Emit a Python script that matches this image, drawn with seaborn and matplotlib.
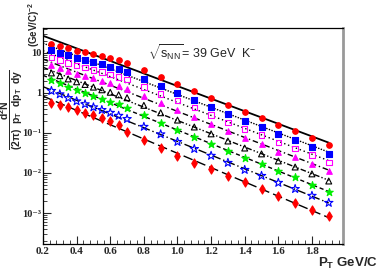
import numpy as np
import matplotlib
matplotlib.use("Agg")
import matplotlib.pyplot as plt
from matplotlib.ticker import FixedLocator, MultipleLocator, LogLocator, NullFormatter
import seaborn as sns

# transverse momentum bins (GeV/c)
pt = [0.25, 0.30, 0.35, 0.40, 0.45, 0.50, 0.55, 0.60, 0.65, 0.70,
      0.8, 0.9, 1.0, 1.1, 1.2, 1.3, 1.4, 1.5, 1.6, 1.7, 1.8, 1.9]

# invariant yields, one list per centrality class (top to bottom)
red_circle = [16.8, 15.0, 13.0, 11.5, 10.3, 9.2, 8.2, 7.3, 6.5, 5.6,
              3.76, 2.51, 1.68, 1.12, 0.75, 0.50, 0.335, 0.237, 0.158, 0.112, 0.075, 0.050]
blue_sq = [11.6, 10.2, 8.7, 7.6, 6.7, 5.9, 5.2, 4.5, 4.0, 3.4,
           2.26, 1.5, 1.0, 0.67, 0.45, 0.30, 0.20, 0.142, 0.095, 0.067, 0.045, 0.030]
mag_osq = [7.6, 6.6, 5.6, 4.8, 4.3, 3.8, 3.3, 2.9, 2.5, 2.16,
           1.43, 0.95, 0.64, 0.43, 0.28, 0.185, 0.124, 0.088, 0.058, 0.041, 0.028, 0.0185]
mag_tri = [4.9, 4.2, 3.5, 3.0, 2.6, 2.3, 2.0, 1.75, 1.53, 1.29,
           0.85, 0.55, 0.366, 0.244, 0.164, 0.109, 0.073, 0.052, 0.034, 0.0244, 0.0164, 0.0115]
open_tri = [3.16, 2.7, 2.24, 1.9, 1.63, 1.4, 1.2, 1.04, 0.90, 0.76,
            0.49, 0.32, 0.21, 0.141, 0.095, 0.063, 0.042, 0.030, 0.020, 0.0141, 0.0095, 0.0063]
green_star = [2.1, 1.77, 1.43, 1.18, 1.0, 0.85, 0.72, 0.61, 0.52, 0.43,
              0.278, 0.181, 0.119, 0.080, 0.053, 0.035, 0.0235, 0.0166, 0.011, 0.0078, 0.0051, 0.0033]
blue_ostar = [1.13, 0.93, 0.75, 0.62, 0.525, 0.44, 0.377, 0.32, 0.27, 0.224,
              0.143, 0.093, 0.060, 0.040, 0.027, 0.018, 0.012, 0.0085, 0.0057, 0.004, 0.0027, 0.0018]
red_dia = [0.553, 0.50, 0.439, 0.376, 0.322, 0.282, 0.233, 0.194, 0.158, 0.106,
           0.0668, 0.0415, 0.0266, 0.0181, 0.0126, 0.0084, 0.00596, 0.00391, 0.00266, 0.00181, 0.00119, 0.00084]

ytick_vals = [1e-3, 1e-2, 1e-1, 1, 10]
ytick_labels = ["10\u207b\u00b3", "10\u207b\u00b2", "10\u207b\u00b9", "1", "10"]
xtick_vals = [0.2, 0.4, 0.6, 0.8, 1.0, 1.2, 1.4, 1.6, 1.8]
xtick_labels = ["0.2", "0.4", "0.6", "0.8", "1.0", "1.2", "1.4", "1.6", "1.8"]

sns.set_style("ticks")
plt.rcParams["font.family"] = ["Liberation Sans", "DejaVu Sans"]
plt.rcParams["mathtext.fontset"] = "custom"
plt.rcParams["mathtext.rm"] = "Liberation Sans"
plt.rcParams["mathtext.it"] = "Liberation Sans:italic"
plt.rcParams["mathtext.bf"] = "Liberation Sans:bold"

serif = ["Liberation Serif", "DejaVu Serif"]

fig = plt.figure(figsize=(3.82, 2.73), dpi=100)
ax = fig.add_axes([0.1126, 0.1062, 0.7854, 0.7912])

# (values, marker, face, edge, size, fit linestyle)
series = [
    (red_circle, "o", "red", "red", 16, "-"),
    (blue_sq, "s", "blue", "blue", 14, (0, (1, 1))),
    (mag_osq, "s", "none", "magenta", 16, (0, (1, 2))),
    (mag_tri, "^", "magenta", "magenta", 16, (0, (4, 2, 1, 2))),
    (open_tri, "^", "none", "black", 18, (0, (4, 1.5, 1, 1.5, 1, 1.5))),
    (green_star, "*", "#00ee00", "#00ee00", 32, (0, (3, 2))),
    (blue_ostar, "*", "none", "blue", 40, (0, (6, 2, 1, 2))),
    (red_dia, "d", "red", "red", 22, (0, (7, 3))),
]

pt_arr = np.array(pt)
xfit = np.linspace(0.2, 1.9, 50)
for vals, mk, fc, ec, s, ls in series:
    coef = np.polyfit(pt_arr, np.log10(vals), 1)
    yfit = 10 ** np.polyval(coef, xfit)
    sns.lineplot(x=xfit, y=yfit, ax=ax, color="black", linestyle=ls,
                 linewidth=1.3 if ls == "-" else 1.0, zorder=2)
    sns.scatterplot(x=pt, y=vals, ax=ax, marker=mk, s=s, facecolor=fc,
                    edgecolor=ec, linewidth=0.8, zorder=3)

ax.set_yscale("log")
ax.set_xlim(0.2, 1.985)
ax.set_ylim(1.68e-4, 42)

ax.xaxis.set_major_locator(FixedLocator(xtick_vals))
ax.set_xticklabels(xtick_labels, family=serif, fontweight="bold", fontsize=8)
ax.xaxis.set_minor_locator(MultipleLocator(0.04))
ax.yaxis.set_major_locator(FixedLocator(ytick_vals))
ax.set_yticklabels(ytick_labels, family=serif, fontweight="bold", fontsize=7.5)
ax.yaxis.set_minor_locator(LogLocator(base=10, subs=np.arange(2, 10)))
ax.yaxis.set_minor_formatter(NullFormatter())
ax.tick_params(which="both", direction="in", top=False, right=False, pad=2)
ax.tick_params(axis="y", pad=1)
ax.tick_params(which="major", length=6, width=0.8)
ax.tick_params(which="minor", length=3, width=0.6)

for side in ["left", "bottom", "top"]:
    ax.spines[side].set_linewidth(0.9)
    ax.spines[side].set_color("black")
ax.spines["right"].set_color("#999999")
ax.spines["right"].set_linewidth(2)

ax.set_xlabel("")
ax.set_ylabel("")

ax.text(0.35, 0.885, r"$\sqrt{\mathrm{s_{NN}}}$= 39 GeV  K$^{-}$",
        transform=ax.transAxes, ha="left", va="center", fontsize=9)

fig.text(0.99, 0.035, r"$\mathbf{P_{T}}$ GeV/C", ha="right", va="center",
         fontsize=9.5, fontweight="bold")
fig.text(0.031, 0.6,
         r"$\mathbf{\dfrac{d^{2}N}{(2\pi)\ \ p_{T}\ \ dp_{T}\ \ dy}}$",
         rotation=90, ha="center", va="center", fontsize=7.5)
fig.text(0.09, 0.912, r"$\mathbf{(GeV/C)^{-2}}$", rotation=90, ha="center",
         va="center", fontsize=7)

fig.savefig("out.png", dpi=100)
